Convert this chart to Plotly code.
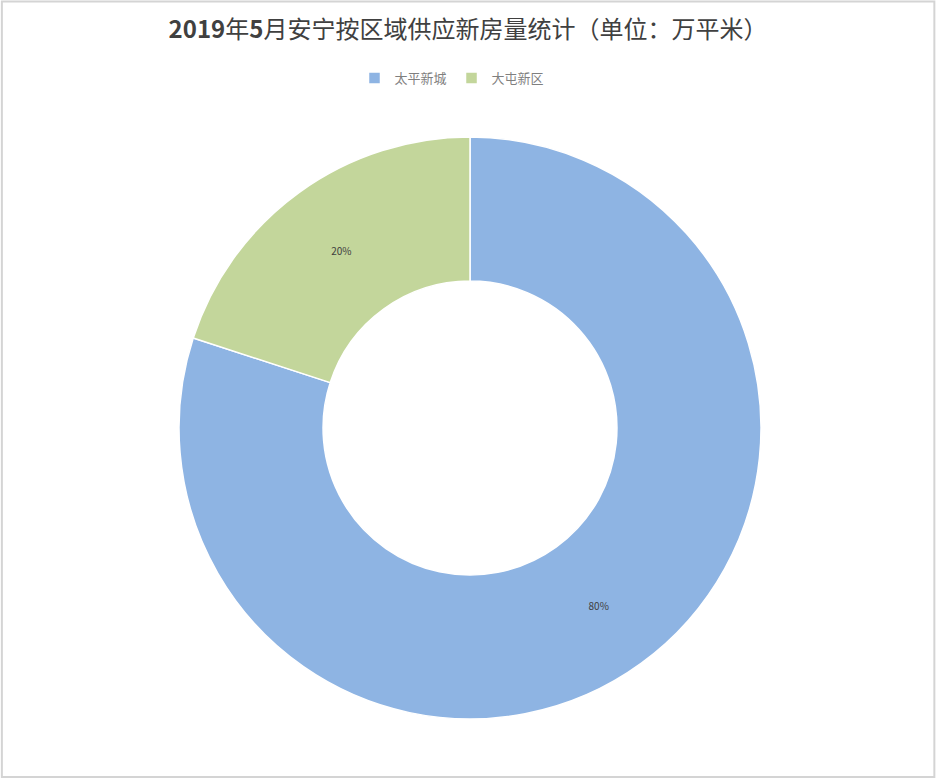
import plotly.graph_objects as go

labels = ["太平新城", "大屯新区"]
values = [80, 20]
colors = ["#8EB4E3", "#C3D69B"]
title = "<b>2019</b>年<b>5</b>月安宁按区域供应新房量统计（单位：万平米）"

W, H = 940, 780
cx, cy, R = 470, 428, 291

fig = go.Figure(go.Pie(
    labels=labels, values=values, hole=0.505, sort=False, direction="clockwise",
    rotation=0, marker=dict(colors=colors, line=dict(color="white", width=1.5)),
    textinfo="percent", texttemplate="%{percent:.0%}", textposition="inside",
    insidetextorientation="horizontal",
    textfont=dict(family="Noto Sans CJK SC", size=10, color="#404040"),
    domain=dict(x=[(cx - R) / W, (cx + R) / W], y=[(H - cy - R) / H, (H - cy + R) / H]),
    hoverinfo="label+value+percent",
))

fig.update_layout(
    width=W, height=H, margin=dict(l=0, r=0, t=0, b=0),
    paper_bgcolor="white", plot_bgcolor="white",
    title=dict(text=title, x=468 / W, xanchor="center", y=1 - 30 / H, yanchor="middle",
               font=dict(family="Noto Sans CJK SC", size=24, color="#404040", weight=400)),
    legend=dict(orientation="h", x=452 / W, xanchor="center", y=1 - 78 / H, yanchor="middle",
                font=dict(family="Noto Sans CJK SC", size=13, color="#7F7F7F"),
                itemwidth=30, bgcolor="rgba(0,0,0,0)"),
    shapes=[dict(type="rect", xref="paper", yref="paper", x0=0.002, y0=0.004, x1=0.994, y1=0.998,
                 line=dict(color="#D4D4D4", width=2))],
)

fig.write_html("out.html", config={"displayModeBar": False},
               post_script="document.body.style.margin='0';document.body.style.padding='0';")
